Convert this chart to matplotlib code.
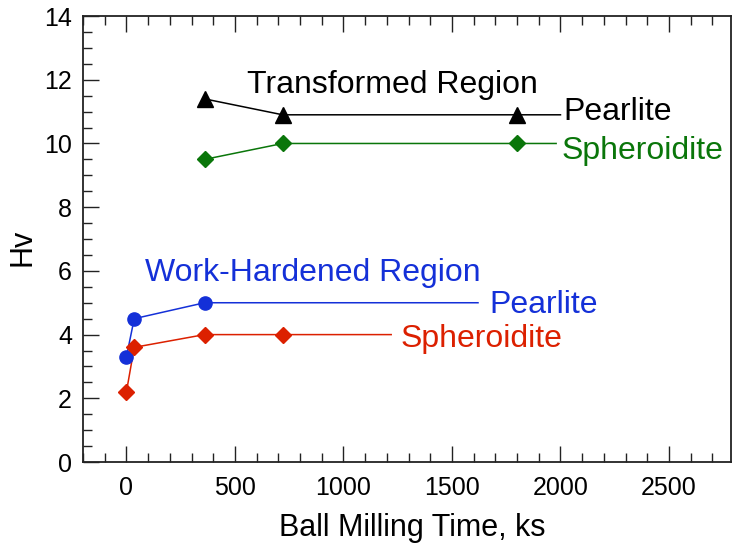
import matplotlib
matplotlib.use("Agg")
import matplotlib.pyplot as plt
from matplotlib.ticker import MultipleLocator

plt.rcParams['font.family'] = ['Liberation Sans', 'DejaVu Sans']

# Data
tr_pearlite_x = [360, 720, 1800]
tr_pearlite_y = [11.4, 10.9, 10.9]
tr_sphero_x = [360, 720, 1800]
tr_sphero_y = [9.5, 10.0, 10.0]
wh_pearlite_x = [0, 36, 360]
wh_pearlite_y = [3.3, 4.5, 5.0]
wh_sphero_x = [0, 36, 360, 720]
wh_sphero_y = [2.2, 3.6, 4.0, 4.0]

# label leader line end points (x) for each series
tr_pearlite_end = 2000
tr_sphero_end = 1980
wh_pearlite_end = 1620
wh_sphero_end = 1220

black = '#000000'
green = '#0a760a'
blue = '#1430d8'
red = '#dc2000'

fig = plt.figure(figsize=(7.32, 5.46), dpi=100)
ax = fig.add_axes([0.1134, 0.1538, 0.885, 0.8168])

def series(x, y, end, color, marker, ms):
    ax.plot(x + [end], y + [y[-1]], color=color, lw=1.1, zorder=2)
    ax.plot(x, y, linestyle='none', marker=marker, ms=ms, color=color,
            markeredgecolor=color, zorder=3)

series(tr_pearlite_x, tr_pearlite_y, tr_pearlite_end, black, '^', 11)
series(tr_sphero_x, tr_sphero_y, tr_sphero_end, green, 'D', 7.8)
series(wh_pearlite_x, wh_pearlite_y, wh_pearlite_end, blue, 'o', 9.5)
series(wh_sphero_x, wh_sphero_y, wh_sphero_end, red, 'D', 8)

fs = 23
ax.text(555, 11.58, 'Transformed Region', color=black, fontsize=fs, va='baseline', ha='left')
ax.text(2015, 10.73, 'Pearlite', color=black, fontsize=fs, va='baseline', ha='left')
ax.text(2005, 9.51, 'Spheroidite', color=green, fontsize=fs, va='baseline', ha='left')
ax.text(84, 5.68, 'Work-Hardened Region', color=blue, fontsize=fs, va='baseline', ha='left')
ax.text(1672, 4.68, 'Pearlite', color=blue, fontsize=fs, va='baseline', ha='left')
ax.text(1262, 3.61, 'Spheroidite', color=red, fontsize=fs, va='baseline', ha='left')

ax.set_xlim(-200, 2785)
ax.set_ylim(0, 14)
ax.xaxis.set_major_locator(MultipleLocator(500))
ax.xaxis.set_minor_locator(MultipleLocator(100))
ax.yaxis.set_major_locator(MultipleLocator(2))
ax.yaxis.set_minor_locator(MultipleLocator(0.5))

ax.tick_params(which='both', direction='in', top=True, right=False,
               labelsize=18, width=1.0, color='#222222')
ax.tick_params(which='major', length=11.5)
ax.tick_params(which='minor', length=6.5)
ax.tick_params(axis='x', which='major', pad=10)
ax.tick_params(axis='y', which='major', pad=8)
for s in ax.spines.values():
    s.set_linewidth(1.3)
    s.set_color('#222222')

ax.set_xlabel('Ball Milling Time, ks', fontsize=22)
ax.set_ylabel('Hv', fontsize=22)
ax.xaxis.set_label_coords(0.509, -0.115)
ax.yaxis.set_label_coords(-0.071, 0.482)

fig.savefig('out.png', dpi=100)
